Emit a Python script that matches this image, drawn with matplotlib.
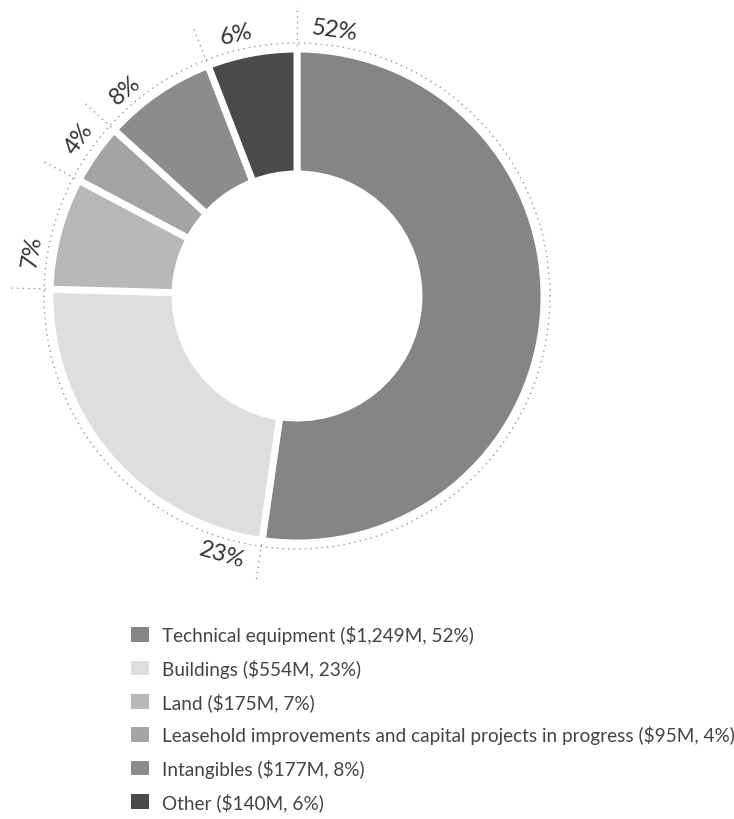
import matplotlib.pyplot as plt
import matplotlib.patches as mpatches
import numpy as np

plt.rcParams['font.family'] = ['Lato', 'DejaVu Sans']

# data
categories = ['Technical equipment', 'Buildings', 'Land',
              'Leasehold improvements and capital projects in progress',
              'Intangibles', 'Other']
amounts = [1249, 554, 175, 95, 177, 140]   # $M
pct_labels = ['52%', '23%', '7%', '4%', '8%', '6%']
legend_labels = ['Technical equipment ($1,249M, 52%)',
                 'Buildings ($554M, 23%)',
                 'Land ($175M, 7%)',
                 'Leasehold improvements and capital projects in progress ($95M, 4%)',
                 'Intangibles ($177M, 8%)',
                 'Other ($140M, 6%)']
colors = ['#858585', '#dedede', '#b8b8b8', '#a4a4a4', '#8c8c8c', '#4a4a4a']

W, H = 734, 820
fig = plt.figure(figsize=(W / 100, H / 100), dpi=100)
ax = fig.add_axes([0, 0, 1, 1])

cx, cy = 297, H - 297
R = 247

ax.pie(amounts, radius=R, center=(cx, cy), startangle=90, counterclock=False,
       colors=colors,
       wedgeprops=dict(width=125, edgecolor='white', linewidth=5))

# dotted ring just outside the donut
t = np.linspace(0, 2 * np.pi, 400)
ax.plot(cx + 253 * np.cos(t), cy + 253 * np.sin(t), color='#999999',
        linestyle=(0, (1, 3)), linewidth=1)

# radial dotted ticks at wedge starts + percent labels
total = sum(amounts)
starts = np.cumsum([0] + amounts[:-1]) / total * 360
for s, lab in zip(starts, pct_labels):
    a = np.radians(s)
    ax.plot([cx + 251 * np.sin(a), cx + 290 * np.sin(a)],
            [cy + 251 * np.cos(a), cy + 290 * np.cos(a)],
            color='#999999', linestyle=(0, (1, 3)), linewidth=1)
    th = s + 8
    b = np.radians(th)
    rot = -th
    while rot <= -90:
        rot += 180
    while rot > 90:
        rot -= 180
    ax.text(cx + 269 * np.sin(b), cy + 269 * np.cos(b), lab, rotation=rot,
            ha='center', va='center', fontsize=17, color='#333333',
            rotation_mode='anchor')

ax.set_xlim(0, W)
ax.set_ylim(0, H)
ax.set_aspect('equal')
ax.axis('off')

handles = [mpatches.Patch(facecolor=c, edgecolor='none') for c in colors]
fig.legend(handles, legend_labels, loc='upper left',
           bbox_to_anchor=(114 / W, 1 - 609 / H), frameon=False,
           fontsize=13.7, labelspacing=0.76, handlelength=0.95,
           handleheight=0.8, handletextpad=0.65, labelcolor='#444444')

fig.savefig('out.png', dpi=100)
